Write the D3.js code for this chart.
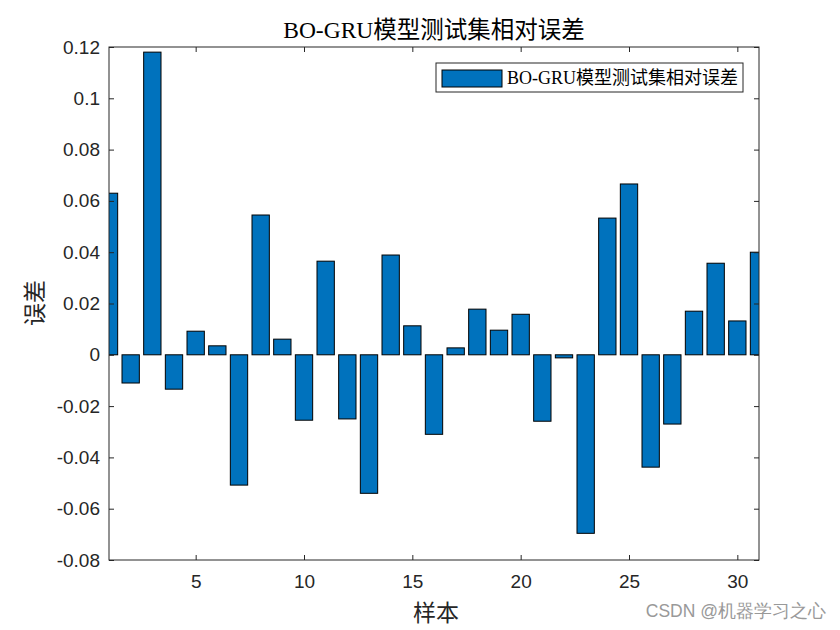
<!DOCTYPE html>
<html><head><meta charset="utf-8">
<script src="https://cdn.jsdelivr.net/npm/d3@7"></script>
<style>body{margin:0;background:#fff}svg{display:block}</style>
</head><body>
<script>
const samples = d3.range(1, 32);
const errors = [0.063, -0.011, 0.118, -0.0134, 0.0092, 0.0035, -0.0508, 0.0545, 0.0061, -0.0255,
  0.0365, -0.025, -0.054, 0.0389, 0.0113, -0.031, 0.0027, 0.0178, 0.0096, 0.0158,
  -0.0259, -0.0012, -0.0696, 0.0533, 0.0666, -0.0438, -0.027, 0.017, 0.0357, 0.0132, 0.040];
const yTicks = [-0.08, -0.06, -0.04, -0.02, 0, 0.02, 0.04, 0.06, 0.08, 0.1, 0.12];
const xTicks = [5, 10, 15, 20, 25, 30];
const titleText = "BO-GRU模型测试集相对误差";
const legendText = "BO-GRU模型测试集相对误差";

const W = 840, H = 630;
const L = 109, R = 759, T = 47, B = 560;
const svg = d3.select("body").append("svg").attr("width", W).attr("height", H);
const x = d3.scaleLinear().domain([1, 31]).range([L, R]);
const y = d3.scaleLinear().domain([-0.08, 0.12]).range([B, T]);
const axisCol = "#262626";
const sans = "'Liberation Sans', Arial, sans-serif";
const serif = "'Liberation Serif', 'Times New Roman', 'Noto Sans CJK SC', serif";

svg.append("defs").append("clipPath").attr("id", "clip")
  .append("rect").attr("x", L).attr("y", T).attr("width", R - L).attr("height", B - T);

const bw = (x(2) - x(1)) * 0.8;
svg.append("g").attr("clip-path", "url(#clip)")
  .selectAll("rect").data(samples).join("rect")
  .attr("x", (d) => x(d) - bw / 2)
  .attr("width", bw)
  .attr("y", (d, i) => y(Math.max(0, errors[i])))
  .attr("height", (d, i) => Math.abs(y(errors[i]) - y(0)))
  .attr("fill", "#0072BD").attr("stroke", "#000").attr("stroke-width", 1);

// axes
const fmt = (d) => d === 0 ? "0" : String(+d.toFixed(2));
const gl = svg.append("g").attr("transform", `translate(${L},0)`)
  .call(d3.axisLeft(y).tickValues(yTicks).tickSize(-5).tickPadding(9).tickFormat(fmt));
const gb = svg.append("g").attr("transform", `translate(0,${B})`)
  .call(d3.axisBottom(x).tickValues(xTicks).tickSize(-5).tickPadding(15));
const gr = svg.append("g").attr("transform", `translate(${R},0)`)
  .call(d3.axisRight(y).tickValues(yTicks).tickSize(-5).tickFormat(""));
const gt = svg.append("g").attr("transform", `translate(0,${T})`)
  .call(d3.axisTop(x).tickValues(xTicks).tickSize(-5).tickFormat(""));
[gl, gb, gr, gt].forEach(g => {
  g.select(".domain").remove();
  g.selectAll("line").attr("stroke", axisCol);
  g.selectAll("text").attr("fill", axisCol).style("font-family", sans).style("font-size", "19px");
});
svg.append("rect").attr("x", L).attr("y", T).attr("width", R - L).attr("height", B - T)
  .attr("fill", "none").attr("stroke", axisCol).attr("stroke-width", 1);

// title
svg.append("text").attr("x", 434).attr("y", 38).attr("text-anchor", "middle")
  .style("font-family", serif).style("font-size", "23.5px").attr("fill", "#000").text(titleText);
// axis labels
svg.append("text").attr("x", 436).attr("y", 621).attr("text-anchor", "middle")
  .style("font-family", serif).style("font-size", "23px").attr("fill", axisCol).text("样本");
svg.append("text").attr("transform", `translate(43,${303}) rotate(-90)`).attr("text-anchor", "middle")
  .style("font-family", serif).style("font-size", "23px").attr("fill", axisCol).text("误差");

// legend
const lg = svg.append("g");
lg.append("rect").attr("x", 436).attr("y", 63).attr("width", 307).attr("height", 29)
  .attr("fill", "#fff").attr("stroke", axisCol).attr("stroke-width", 1);
lg.append("rect").attr("x", 442).attr("y", 70).attr("width", 60).attr("height", 17)
  .attr("fill", "#0072BD").attr("stroke", "#000").attr("stroke-width", 1);
lg.append("text").attr("x", 507).attr("y", 84).style("font-family", serif).style("font-size", "18px")
  .attr("fill", "#000").text(legendText);

// watermark
svg.append("text").attr("x", 826).attr("y", 617).attr("text-anchor", "end")
  .style("font-family", sans).style("font-size", "17.5px").attr("fill", "#999").text("CSDN @机器学习之心");
</script>
</body></html>
